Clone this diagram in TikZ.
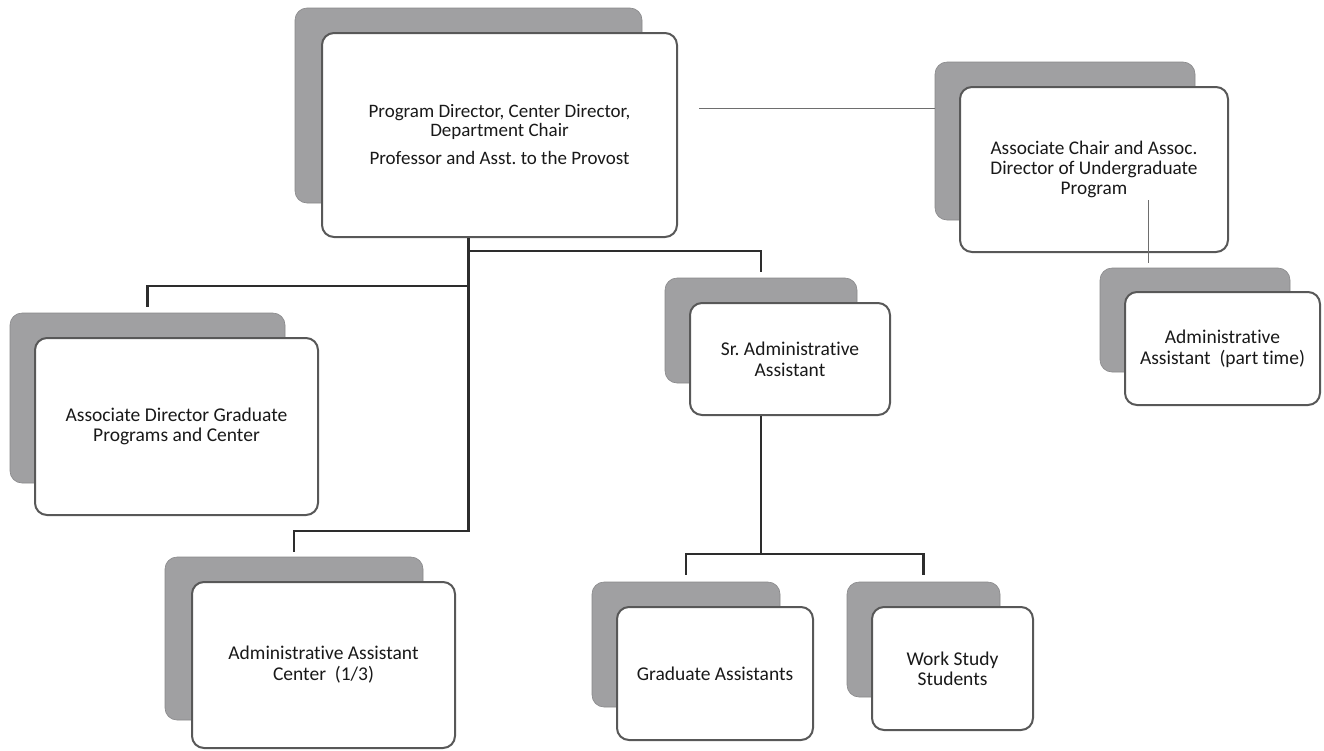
\documentclass[tikz,border=0pt]{standalone}
\usepackage{fontspec}
\setmainfont{Carlito}[Ligatures=NoCommon]
\frenchspacing
\definecolor{shadowgray}{RGB}{160,160,162}
\definecolor{boxline}{RGB}{88,88,88}
\definecolor{connline}{RGB}{45,45,45}
\definecolor{thinline}{RGB}{110,110,110}
\definecolor{txt}{RGB}{25,25,25}
\begin{document}
\begin{tikzpicture}[x=1pt,y=-1pt,
  shadowbox/.style={fill=shadowgray, draw=shadowgray!85!black, line width=0.6pt, rounded corners=12pt, inner sep=0pt},
  wbox/.style={fill=white, draw=boxline, line width=2pt, rounded corners=12pt, inner sep=0pt, align=center, text=txt, font=\fontsize{19.5}{21}\selectfont},
  conn/.style={draw=connline, line width=2.2pt},
  thinconn/.style={draw=thinline, line width=1pt}]
\useasboundingbox[fill=white] (0,0) rectangle (1324,750);

% top
\node[shadowbox, minimum width=347pt, minimum height=195pt] (topS) at (468.5,105.5) {};
\node[wbox, minimum width=355pt, minimum height=204pt, font=\fontsize{19}{18.5}\selectfont] (top) at (499.5,135) {Program Director, Center Director,\\ Department Chair\\[10pt] Professor and Asst. to the Provost};

% right
\node[shadowbox, minimum width=260pt, minimum height=158pt] (rightS) at (1065,141) {};
\node[wbox, minimum width=268pt, minimum height=165pt, font=\fontsize{19.3}{20}\selectfont] (right) at (1094,169.5) {Associate Chair and Assoc.\\ Director of Undergraduate\\ Program};

% part time
\node[shadowbox, minimum width=190pt, minimum height=104pt] (ptS) at (1195,320) {};
\node[wbox, minimum width=195pt, minimum height=113pt] (pt) at (1222.5,348.5) {Administrative\\ Assistant\ \ (part time)};

% left
\node[shadowbox, minimum width=275pt, minimum height=170pt] (leftS) at (147.5,398) {};
\node[wbox, minimum width=283pt, minimum height=177pt, font=\fontsize{19.5}{20}\selectfont] (left) at (176.5,426.5) {Associate Director Graduate\\ Programs and Center};

% admin center
\node[shadowbox, minimum width=258pt, minimum height=163pt] (ctrS) at (294,638.5) {};
\node[wbox, minimum width=263pt, minimum height=166pt] (ctr) at (323.5,665) {Administrative Assistant\\ Center\ \ (1/3)};

% sr admin
\node[shadowbox, minimum width=192pt, minimum height=105pt] (srS) at (761,330.5) {};
\node[wbox, minimum width=200pt, minimum height=112pt] (sr) at (790,359) {Sr. Administrative\\ Assistant};

% graduate assistants
\node[shadowbox, minimum width=188pt, minimum height=125pt] (gradS) at (686,644.5) {};
\node[wbox, minimum width=196pt, minimum height=133pt] (grad) at (715,673.5) {Graduate Assistants};

% work study
\node[shadowbox, minimum width=153pt, minimum height=115pt] (workS) at (923.5,639.5) {};
\node[wbox, minimum width=161pt, minimum height=123pt, font=\fontsize{19.5}{20}\selectfont] (work) at (952.5,668.5) {Work Study\\ Students};

% connectors
\draw[conn] (top.south -| topS.center) -- ++(0,13) -| ([yshift=6pt]srS.north);
\draw[conn] (top.south -| topS.center) -- ++(0,293) -| ([yshift=5pt]ctrS.north);
\draw[conn] (top.south -| topS.center) ++(0,48) -| ([yshift=6pt]leftS.north);
\draw[conn] (sr.south -| srS.center) -- ++(0,138) coordinate (k);
\draw[conn] (k) -| ([yshift=7pt]gradS.north);
\draw[conn] (k) -| ([yshift=7pt]workS.north);

\coordinate (tl) at (699,108);
\draw[thinconn] (tl) -- (tl -| rightS.west);
\coordinate (tv) at (1148,200);
\draw[thinconn] (tv) -- ([yshift=5pt]tv |- ptS.north);
\end{tikzpicture}
\end{document}
